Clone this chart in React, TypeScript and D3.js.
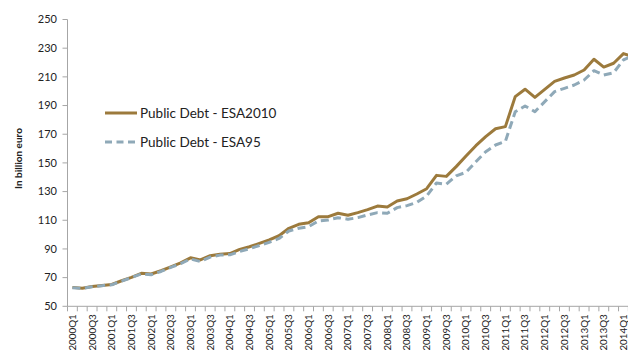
import React from "react";
import * as d3 from "d3";

const years = d3.range(2000, 2015);
const categories: string[] = [];
years.forEach((y) => [1, 2, 3, 4].forEach((q) => categories.push(`${y}Q${q}`)));
const quarters = categories.slice(0, 58); // 2000Q1 .. 2014Q2

const esa2010 = [
  63.2, 62.6, 63.8, 64.5, 65.2, 67.8, 70.2, 73.0, 72.5, 74.8,
  77.5, 80.3, 83.8, 82.3, 85.3, 86.3, 86.8, 89.7, 91.5, 93.9,
  96.3, 99.2, 104.4, 107.2, 108.3, 112.5, 112.5, 114.9, 113.5, 115.3,
  117.4, 119.9, 119.3, 123.4, 125.0, 128.3, 132.0, 141.3, 140.6, 147.4,
  154.8, 162.0, 168.3, 173.8, 175.3, 196.2, 201.4, 195.7, 201.3, 206.8,
  209.2, 211.3, 214.8, 222.3, 216.8, 219.5, 226.2, 224.0,
];

const esa95 = [
  63.0, 62.4, 63.6, 64.4, 65.0, 67.6, 70.0, 72.6, 72.0, 74.3,
  77.2, 79.7, 83.0, 81.2, 84.3, 85.7, 85.9, 88.2, 90.2, 92.4,
  94.6, 97.3, 102.5, 104.4, 105.5, 109.5, 110.2, 111.8, 110.7, 111.8,
  113.7, 115.3, 114.9, 118.8, 120.2, 122.5, 126.9, 136.0, 135.1, 141.0,
  143.4, 150.8, 157.8, 162.5, 165.0, 185.7, 189.7, 185.7, 192.7, 199.7,
  202.0, 204.3, 207.8, 214.3, 211.3, 212.9, 221.8, 225.0,
];

const yTicks = [50, 70, 90, 110, 130, 150, 170, 190, 210, 230, 250];
const seriesNames = ["Public Debt - ESA2010", "Public Debt - ESA95"];
const yTitle = "In billion euro";

const W = 628;
const H = 352;
const FONT = "Lato, 'Open Sans', sans-serif";
const AXIS = "#a6a6a6";
const C2010 = "#9c7a3c";
const C95 = "#8fa9b8";

export default function App() {
  const x0 = 67.5;
  const bw = 9.84;
  const x = d3
    .scaleBand<string>()
    .domain(quarters)
    .range([x0, x0 + bw * quarters.length])
    .paddingInner(0)
    .paddingOuter(0);
  const y = d3.scaleLinear().domain([50, 250]).range([306.3, 19.5]);
  const cx = (c: string) => (x(c) as number) + x.bandwidth() / 2;

  const line = d3
    .line<number>()
    .x((_, i) => cx(quarters[i]))
    .y((d) => y(d));

  const plotBottom = y(50);
  const plotTop = y(250);
  const xRight = x0 + bw * quarters.length;

  return (
    <svg
      width={W}
      height={H}
      style={{ position: "absolute", left: 0, top: 0, background: "#fff" }}
      fontFamily={FONT}
    >
      <rect x={0} y={0} width={W} height={H} fill="#fff" />
      {/* y axis */}
      <line x1={x0} x2={x0} y1={plotTop} y2={plotBottom} stroke={AXIS} strokeWidth={1} />
      {yTicks.map((t) => (
        <g key={t}>
          <line x1={x0 - 5} x2={x0} y1={y(t)} y2={y(t)} stroke={AXIS} strokeWidth={1} />
          <text x={57} y={y(t)} dy="0.35em" textAnchor="end" fontSize={11} fill="#222">
            {t}
          </text>
        </g>
      ))}
      {/* x axis */}
      <line x1={x0} x2={xRight} y1={plotBottom} y2={plotBottom} stroke={AXIS} strokeWidth={1} />
      {d3.range(quarters.length + 1).map((i) => (
        <line
          key={i}
          x1={x0 + i * x.bandwidth()}
          x2={x0 + i * x.bandwidth()}
          y1={plotBottom}
          y2={plotBottom + 5}
          stroke={AXIS}
          strokeWidth={1}
        />
      ))}
      {quarters.map((q, i) =>
        i % 2 === 0 ? (
          <text
            key={q}
            transform={`translate(${cx(q)},${plotBottom + 8}) rotate(-90)`}
            dy="0.35em"
            textAnchor="end"
            fontSize={9.8}
            fill="#222"
          >
            {q}
          </text>
        ) : null
      )}
      {/* y title */}
      <text
        transform={`translate(18,${158.5}) rotate(-90)`}
        dy="0.35em"
        textAnchor="middle"
        fontSize={10}
        fontWeight="bold"
        fill="#222"
      >
        {yTitle}
      </text>
      {/* series */}
      <path d={line(esa2010) || ""} fill="none" stroke={C2010} strokeWidth={3} strokeLinejoin="round" />
      <path
        d={line(esa95) || ""}
        fill="none"
        stroke={C95}
        strokeWidth={3}
        strokeDasharray="8,4.5"
        strokeLinejoin="round"
      />
      {/* legend */}
      <line x1={105} x2={137} y1={113} y2={113} stroke={C2010} strokeWidth={3} />
      <text x={140} y={113} dy="0.35em" fontSize={13.5} fill="#222">
        {seriesNames[0]}
      </text>
      <line x1={105} x2={137} y1={142} y2={142} stroke={C95} strokeWidth={3} strokeDasharray="7,4.5" />
      <text x={140} y={142} dy="0.35em" fontSize={13.5} fill="#222">
        {seriesNames[1]}
      </text>
    </svg>
  );
}
